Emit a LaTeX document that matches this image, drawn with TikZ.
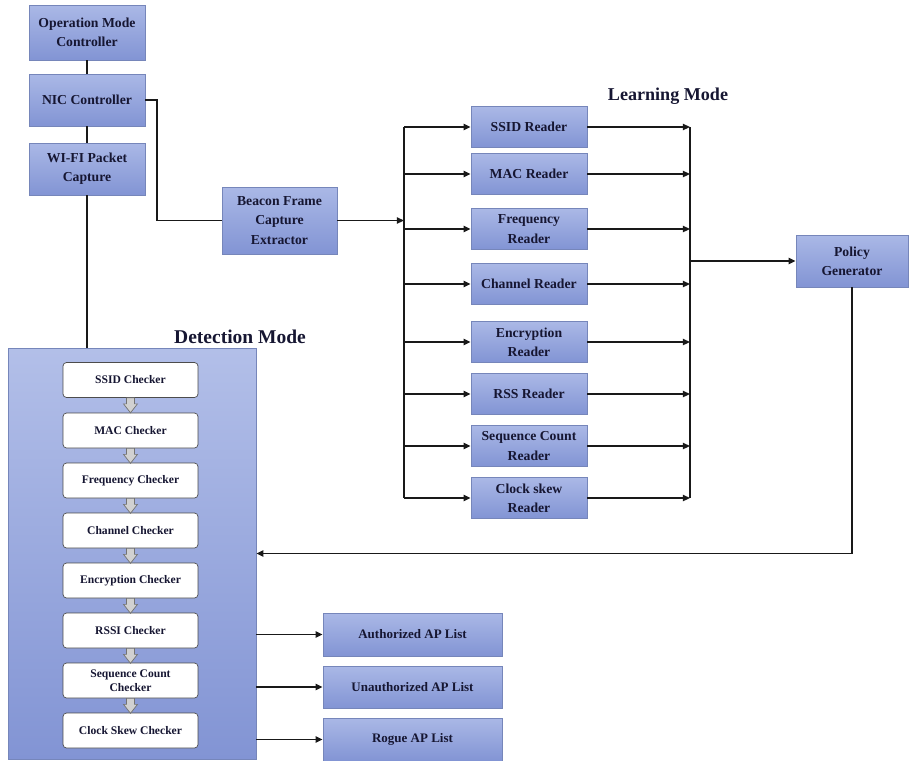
\documentclass[tikz,border=0pt]{standalone}
\usepackage{fontspec}
\setmainfont{Liberation Serif}
\usepackage{tikz}
\usetikzlibrary{arrows.meta, calc}

\definecolor{boxtop}{RGB}{170,184,230}
\definecolor{boxbot}{RGB}{130,148,212}
\definecolor{boxline}{RGB}{118,134,186}
\definecolor{txt}{RGB}{22,22,50}

\tikzset{
  blockbox/.style={draw=boxline, top color=boxtop, bottom color=boxbot, text=txt,
    font=\bfseries\fontsize{7.8}{11}\selectfont, align=center, inner sep=1pt},
  chkbox/.style={draw=black!70, fill=white, rounded corners=2pt, text=txt,
    font=\bfseries\fontsize{6.6}{8}\selectfont, align=center, inner sep=1pt,
    minimum width=2.7cm, minimum height=0.7cm},
  wire/.style={line width=1pt, black!90},
  arr/.style={wire, -{Triangle[length=4pt,width=3.5pt]}},
  downarr/.style={draw=black!55, fill=black!18, line width=0.4pt},
  title/.style={text=txt, font=\bfseries}
}

\begin{document}
\begin{tikzpicture}[x=0.02cm, y=-0.02cm]
\useasboundingbox (0,0) rectangle (910,761);

% left column
\node[blockbox, minimum width=2.32cm, minimum height=1.1cm] (opmode) at (87,32.5) {Operation Mode\\Controller};
\node[blockbox, minimum width=2.32cm, minimum height=1.04cm] (nic) at (87,100) {NIC Controller};
\node[blockbox, minimum width=2.32cm, minimum height=1.04cm] (wifi) at (87,169) {WI-FI Packet\\Capture};
\node[blockbox, minimum width=2.3cm, minimum height=1.34cm] (beacon) at (279.5,220.5) {Beacon Frame\\Capture\\Extractor};

% learning mode
\node[title, font=\bfseries\fontsize{10.3}{12}\selectfont] (learn) at (668,96) {Learning Mode};
\foreach \n/\y/\t in {1/127/SSID Reader, 2/174/MAC Reader, 3/229/Frequency\\Reader,
    4/284/Channel Reader, 5/342/Encryption\\Reader, 6/394/RSS Reader,
    7/446/Sequence Count\\Reader, 8/498/Clock skew\\Reader}
  \node[blockbox, minimum width=2.32cm, minimum height=0.82cm] (r\n) at (529,\y) {\t};
\coordinate (lbus) at (404,0);
\coordinate (rbus) at (690,0);
\node[blockbox, minimum width=2.24cm, minimum height=1.04cm] (policy) at (852,261) {Policy\\Generator};

% detection mode
\node[draw=boxline, top color=boxtop!90!white, bottom color=boxbot, minimum width=4.96cm, minimum height=8.22cm] (det) at (132,553.5) {};
\node[title, font=\bfseries\fontsize{11.1}{13}\selectfont] (dtitle) at (240,337) {Detection Mode};
\foreach \n/\y/\t in {1/380/SSID Checker, 2/430.5/MAC Checker, 3/480.5/Frequency Checker,
    4/530.5/Channel Checker, 5/580.5/Encryption Checker, 6/630.5/RSSI Checker,
    7/680.5/Sequence Count\\Checker, 8/730.5/Clock Skew Checker}
  \node[chkbox] (c\n) at (130.5,\y) {\t};
\foreach \i in {1,...,7}
  \draw[downarr] ($(c\i.south)+(-4,0)$) -- ++(8,0) -- ++(0,6) -- ++(3,0) -- ++(-7,9) -- ++(-7,-9) -- ++(3,0) -- cycle;

% output lists
\node[blockbox, font=\bfseries\fontsize{7.4}{9}\selectfont, minimum width=3.58cm, minimum height=0.86cm] (l1) at (412.5,634.5) {Authorized AP List};
\node[blockbox, font=\bfseries\fontsize{7.4}{9}\selectfont, minimum width=3.58cm, minimum height=0.84cm] (l2) at (412.5,687) {Unauthorized AP List};
\node[blockbox, font=\bfseries\fontsize{7.4}{9}\selectfont, minimum width=3.58cm, minimum height=0.86cm] (l3) at (412.5,739.5) {Rogue AP List};

% connectors
\draw[wire] (opmode) -- (nic);
\draw[wire] (nic) -- (wifi);
\draw[wire] (wifi.south) -- (wifi.south |- det.north);
\draw[wire] (nic.east) -- ++(12,0) |- (beacon.west);
\draw[arr] (beacon.east) -- (beacon.east -| lbus);
\draw[wire] (r1.west -| lbus) -- (r8.west -| lbus);
\draw[wire] (r1.east -| rbus) -- (r8.east -| rbus);
\foreach \i in {1,...,8}{
  \draw[arr] (r\i.west -| lbus) -- (r\i.west);
  \draw[arr] (r\i.east) -- (r\i.east -| rbus);
}
\draw[arr] (policy.west -| rbus) -- (policy.west);
\draw[arr] (policy.south) |- (det.east);
\foreach \i in {1,2,3}
  \draw[arr] (l\i.west -| det.east) -- (l\i.west);
\end{tikzpicture}
\end{document}
